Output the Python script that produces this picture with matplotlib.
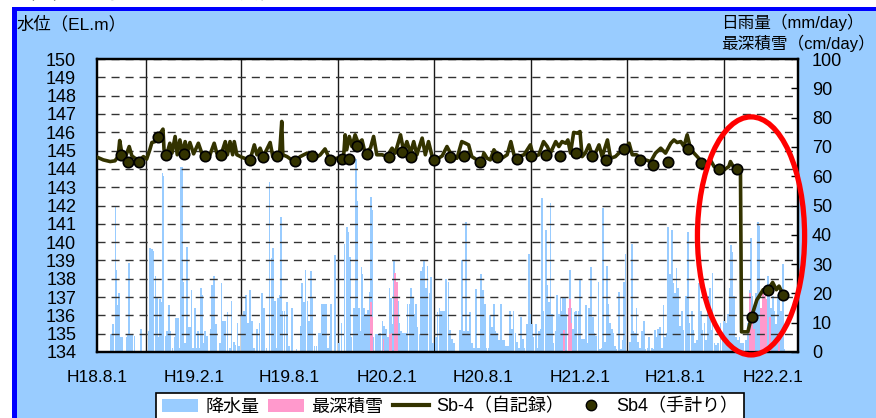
import numpy as np
import matplotlib
matplotlib.use("Agg")
import matplotlib.pyplot as plt
import matplotlib.dates as mdates
from matplotlib.patches import Rectangle, Ellipse, Patch
from matplotlib.lines import Line2D

plt.rcParams['font.family'] = ['Liberation Sans', 'Noto Sans CJK JP']

# --- data (days counted from 2006-08-01 = H18.8.1) ---
START = np.datetime64('2006-08-01')
X_END = np.datetime64('2010-03-21')

tick_dates = ['2006-08-01', '2007-02-01', '2007-08-01', '2008-02-01',
              '2008-08-01', '2009-02-01', '2009-08-01', '2010-02-01']
tick_labels = ['H18.8.1', 'H19.2.1', 'H19.8.1', 'H20.2.1',
               'H20.8.1', 'H21.2.1', 'H21.8.1', 'H22.2.1']
grid_dates = ['2006-11-01', '2007-02-01', '2007-05-01', '2007-08-01',
              '2007-11-01', '2008-02-01', '2008-05-01', '2008-08-01',
              '2008-11-01', '2009-02-01', '2009-05-01', '2009-08-01',
              '2009-11-01', '2010-02-01']

# daily rainfall (mm/day)
rain_day = [26, 31, 35, 37, 39, 42, 44, 47, 56, 59, 61, 63, 66, 71, 83, 98, 101, 104, 107, 111,
            113, 116, 119, 122, 124, 126, 130, 133, 136, 139, 143, 147, 150, 153, 157, 159, 161,
            164, 167, 170, 173, 176, 179, 182, 185, 188, 192, 195, 197, 200, 202, 205, 209, 215,
            218, 221,
            226, 233, 236, 239, 243, 247, 252, 255, 259, 262, 266, 269, 274, 278, 282, 286, 290,
            293, 297, 303, 308, 312, 317, 321, 327, 331, 334, 337, 340, 343, 346, 348, 351, 355,
            360, 364, 369, 378, 386, 388, 392, 395, 399, 402, 405, 408, 412, 416, 420, 422, 426,
            430, 434, 438, 441,
            443, 451, 459, 463, 469, 473, 475, 479, 482, 487, 491, 492, 496, 498, 501, 503, 506,
            510, 513, 516, 519, 522, 524, 528, 532, 536, 541, 544, 547, 551, 554, 557, 560, 563,
            565, 570, 573, 576, 579, 582, 585, 588, 592, 595, 598, 601, 604, 607, 611, 614, 617,
            620, 623, 626, 630, 633, 636, 642, 645, 649, 652, 655, 658,
            661, 666, 669, 673, 676, 688, 692, 695, 699, 702, 704, 707, 711, 714, 718, 722, 726,
            728, 731, 735, 738, 742, 745, 748, 752, 755, 758, 761, 765, 769, 771, 775, 779, 783,
            786, 789, 793, 796, 799, 803, 807, 810, 815, 818, 821, 824, 827, 831, 834, 838, 841,
            843, 846, 850, 853, 856, 859, 862, 865, 869, 872, 875, 878, 881,
            883, 886, 889, 893, 896, 899, 902, 905, 908, 912, 915, 919, 922, 926, 929, 932, 936,
            939, 942, 946, 950, 953, 956, 958, 961, 963, 966, 968, 972, 975, 978, 981, 984, 989,
            992, 996, 999, 1001, 1005, 1010, 1013, 1016, 1019, 1022, 1025, 1029, 1033, 1036,
            1039, 1043, 1046, 1051, 1054, 1057, 1060, 1063, 1066, 1070, 1073, 1076, 1079, 1082,
            1085, 1089, 1092, 1095, 1098, 1101,
            1105, 1108, 1111, 1116, 1119, 1122, 1127, 1130, 1133, 1137, 1141, 1144, 1147, 1151,
            1154, 1158, 1161, 1163, 1166, 1170, 1173, 1176, 1181, 1185, 1188, 1192, 1195, 1198,
            1201, 1204, 1207, 1211, 1214, 1217, 1220, 1224, 1230, 1233, 1236, 1239, 1242, 1245,
            1249, 1252, 1255, 1258, 1261, 1264, 1267, 1271, 1274, 1277, 1280, 1283, 1286, 1290,
            1293, 1296, 1299, 1302]
rain_mm = [6, 9.5, 50, 28, 16, 20, 5, 5, 5, 6, 30.5, 6, 6, 5.5, 8, 7, 35.5, 35, 34.5, 26,
           18.5, 5, 18, 17, 61, 60, 5.5, 7, 16, 7, 1.5, 5, 11.5, 11.5, 1.5, 63, 63,
           24, 3, 36, 8.5, 8.5, 21, 1.5, 15, 1.5, 7, 1.5, 22, 19.5, 3, 7, 5.5, 8,
           23, 26,
           9.5, 3, 23.5, 10.5, 10.5, 13.5, 1.5, 17.5, 3.5, 2.5, 10, 2, 12.5, 14, 19.5, 10, 21,
           10.5, 1.5, 8, 10, 20, 15, 1.5, 58, 32, 35.5, 17.5, 1.5, 18.5, 19.5, 46, 14, 14,
           17, 2, 15, 1, 9, 23.5, 17, 28, 17.5, 10.5, 27.5, 18.5, 2, 2, 6.5, 6.5, 16.5,
           16.5, 16.5, 1.5, 5.5,
           16.5, 33, 3, 10, 37, 42.5, 41, 32.5, 5, 15, 66, 51.5, 15, 7, 29, 26.5, 15,
           13, 14.5, 20.5, 53, 48.5, 5, 6, 6, 6.5, 10.5, 9, 8, 5, 22, 18.5, 9.5, 31,
           27, 17.5, 10, 7, 6.5, 6.5, 6.5, 16.5, 16.5, 22, 18.5, 13, 16.5, 8.5, 6, 27.5, 29,
           31, 22, 29.5, 20, 25.5, 3, 5, 13.5, 15, 14, 14, 14,
           25, 24, 7.5, 4.5, 3, 7.5, 31.5, 7, 44.5, 7, 7, 13.5, 3, 1.5, 21.5, 1.5, 1.5,
           26.5, 21, 16.5, 1.5, 1.5, 12.5, 8.5, 16.5, 7, 6.5, 4, 16.5, 4, 4, 2, 2, 14,
           8, 14, 6.5, 3.5, 1.5, 12, 4.5, 1.5, 9.5, 33.5, 13, 9.5, 5, 9.5, 1.5, 7, 8,
           52.5, 14, 41.5, 23, 17, 51, 13, 3, 7, 19.5, 13, 18.5, 14,
           18.5, 18.5, 13, 12, 28, 15, 8, 13.5, 14, 14, 25, 4.5, 4.5, 16, 3, 15, 29,
           12, 6.5, 5.5, 24, 1, 1.5, 49, 2, 3.5, 29.5, 16.5, 10, 8, 6.5, 2, 1, 20.5,
           1, 4, 24, 33.5, 0.5, 3.5, 37, 7, 6.5, 15, 3.5, 1.5, 7, 10.5,
           1, 1.5, 5, 1.5, 1, 7.5, 5, 8, 8.5, 1.5, 16, 5, 6.5, 42.5,
           26.5, 41.5, 23.5, 20, 28.5, 22,
           9, 14, 7.5, 19, 41, 10, 14, 7.5, 3, 4, 23.5, 14, 7.5, 10,
           4, 19, 22, 7.5, 27, 3, 2.5, 3, 10, 4, 10.5, 10, 13, 22,
           36.5, 34, 19, 5, 4, 5, 3, 3, 4, 10, 21, 39, 19, 14,
           20, 44.5, 43, 14, 12, 11, 16.5, 26, 19, 15, 19, 14, 9.5, 19.5,
           21, 14, 30, 1]

# deepest snow cover (cm/day)
snow_day = [519, 522, 543, 555, 558, 565, 568, 884, 893, 896, 899,
            1237, 1241, 1245, 1258, 1261, 1265, 1268, 1275, 1292]
snow_cm = [17, 12, 4.5, 6, 6.5, 27, 24, 7.5, 15, 18, 10,
           20, 12, 8, 15, 22, 19, 18, 12, 5]

# Sb-4 automatic record (EL.m)
lvl_day = [0, 12, 25, 34, 40, 43, 47, 53, 61, 66, 72, 81, 88, 94, 100, 104, 110, 113, 120, 125,
           127, 132, 138, 142, 148, 152, 157, 162, 167, 171, 176, 183, 192, 199, 205, 214, 222,
           227, 235, 243, 247, 252, 257, 260, 265, 274, 284, 290, 298, 303, 309, 315, 328, 333,
           341, 346, 350, 352, 360, 369, 375, 385, 398, 404, 413, 423, 432, 437, 442, 454, 467,
           470, 473, 478, 483, 489, 495, 502, 508, 518, 524, 530, 540, 549, 559, 565, 575, 581,
           587, 594, 600, 606, 616, 622, 628, 635, 644, 654, 663, 673, 682, 691, 698, 704, 710,
           720, 729, 733, 739, 745, 752, 758, 767, 777, 784, 790, 799, 809, 815, 821, 827, 837,
           846, 853, 859, 869, 875, 881, 888, 892, 897, 903, 910, 915, 919, 925, 932, 938, 944,
           951, 957, 967, 973, 982, 992, 999, 1008, 1014, 1022, 1030, 1039, 1049, 1058, 1068,
           1077, 1087, 1093, 1099, 1106, 1112, 1118, 1125, 1131, 1140, 1147, 1156, 1162, 1169,
           1178, 1188, 1197, 1200, 1207, 1213, 1219, 1221, 1233, 1240, 1250, 1262, 1271, 1280,
           1287, 1292, 1300]
lvl_h = [144.64, 144.49, 144.40, 144.44, 144.67, 145.55, 144.86, 144.58, 145.22, 144.71, 144.58,
         144.49, 144.67, 144.53, 145.04, 145.44, 145.49, 145.77, 145.95, 146.17, 145.04, 144.77,
         145.40, 144.86, 145.77, 144.77, 145.58, 144.86, 145.49, 144.86, 145.44, 144.82, 145.40,
         144.82, 144.77, 144.77, 145.40, 144.86, 144.77, 145.49, 144.77, 145.49, 144.77, 145.49,
         144.77, 144.64, 144.53, 144.49, 145.31, 144.77, 145.13, 144.67, 145.44, 144.67, 144.77,
         144.86, 146.59, 144.77, 144.67, 144.49, 144.44, 144.67, 144.86, 144.77, 144.58, 144.77,
         145.09, 144.77, 144.49, 144.58, 144.58, 145.86, 145.04, 145.77, 145.22, 145.86, 145.40,
         145.58, 144.86, 145.13, 145.77, 144.77, 144.77, 144.67, 145.13, 144.86, 145.86, 144.95,
         145.49, 144.86, 145.49, 144.77, 145.68, 144.77, 145.49, 144.67, 144.53, 144.71, 145.22,
         144.67, 144.58, 145.49, 145.40, 145.31, 144.67, 144.49, 144.40, 144.86, 144.58, 144.49,
         145.04, 144.77, 144.58, 144.77, 145.49, 144.77, 144.67, 144.77, 145.04, 145.31, 144.67,
         144.77, 145.49, 145.22, 144.86, 145.49, 145.22, 145.49, 145.40, 145.58, 144.86, 145.99,
         145.95, 146.04, 144.67, 144.86, 145.31, 144.77, 144.86, 145.31, 144.67, 145.58, 144.58,
         144.67, 144.95, 145.09, 145.40, 144.77, 144.77, 144.58, 144.49, 144.40, 144.86, 145.13,
         144.86, 145.40, 145.58, 145.44, 145.49, 145.22, 145.86, 145.04, 144.86, 144.58, 144.31,
         144.31, 144.49, 144.13, 143.98, 143.95, 144.13, 144.40, 144.04, 143.98, 143.95, 135.10,
         135.10, 135.93, 136.84, 137.40, 137.39, 137.80, 137.40, 137.60, 137.11]

# Sb4 manual readings (EL.m)
man_day = [45, 59, 80, 116, 131, 165, 205, 235, 289, 314, 341, 375, 408, 441, 465, 478, 492,
           511, 554, 577, 595, 638, 669, 696, 725, 758, 795, 822, 850, 878, 907, 937, 964, 999,
           1028, 1053, 1082, 1119, 1145, 1178, 1213, 1240, 1271, 1300]
man_h = [144.77, 144.40, 144.35, 145.73, 144.77, 144.80, 144.73, 144.77, 144.50, 144.63, 144.68,
         144.45, 144.72, 144.50, 144.55, 144.55, 145.26, 144.80, 144.63, 144.92, 144.64, 144.50,
         144.63, 144.68, 144.40, 144.64, 144.55, 144.72, 144.77, 144.68, 144.86, 144.72, 144.50,
         145.10, 144.50, 144.20, 144.37, 145.07, 144.30, 143.97, 143.97, 135.93, 137.39, 137.11]


def to_dates(days):
    return START + np.array(days).astype('timedelta64[D]')


W, H = 876, 418
fx = lambda px: px / W
fy = lambda py: 1 - py / H

fig = plt.figure(figsize=(8.76, 4.18), dpi=100, facecolor='white')

# panel background + blue frame (behind the axes)
fig.patches.append(Rectangle((fx(13), 0), 1 - fx(13), fy(7), transform=fig.transFigure,
                             facecolor='#99CCFF', edgecolor='none', zorder=-3))
fig.patches.append(Rectangle((fx(12), 0), 5 / W, fy(7), transform=fig.transFigure,
                             facecolor='#0000FF', edgecolor='none', zorder=-2))
fig.patches.append(Rectangle((fx(12), fy(11)), 1, 4 / H, transform=fig.transFigure,
                             facecolor='#0000FF', edgecolor='none', zorder=-2))
fig.text(fx(17), fy(3), '（３）Sb-4孔 地下水位経時変化図', fontsize=13, color='#333333',
         va='bottom', ha='left', zorder=-4)

ax = fig.add_axes([fx(97), fy(352), fx(798) - fx(97), fy(59) - fy(352)])
ax.set_facecolor('white')

ax.bar(to_dates(rain_day), rain_mm, width=3.3, color='#99CCFF', linewidth=0, zorder=2)
ax.bar(to_dates(snow_day), snow_cm, width=3.3, color='#FF99CC', linewidth=0, zorder=3)
ax.set_ylim(0, 100)
ax.set_xlim(START, X_END)
ax.set_xticks([np.datetime64(d) for d in tick_dates])
ax.set_xticklabels(tick_labels)
ax.set_xticks([np.datetime64(d) for d in grid_dates], minor=True)
ax.tick_params(axis='x', which='both', length=0, pad=13, labelsize=12.5)
ax.grid(axis='x', which='minor', color='#1a1a1a', linewidth=1)

axh = ax.twinx()
# rain/snow scale on the right, water level on the left
ax.yaxis.tick_right()
ax.set_yticks(np.arange(0, 101, 10))
ax.tick_params(axis='y', direction='in', length=5, width=1, pad=10, labelsize=13,
               left=False, labelleft=False, right=True, labelright=True)
axh.yaxis.tick_left()
axh.set_ylim(134, 150)
axh.set_yticks(np.arange(134, 151, 1))
axh.tick_params(axis='y', length=0, pad=15, labelsize=13,
                left=True, labelleft=True, right=False, labelright=False)
axh.grid(axis='y', color='#333333', linewidth=1, linestyle=(0, (5.8, 4.3)))
axh.plot(to_dates(lvl_day), lvl_h, color='#333300', linewidth=2.6, zorder=4)
axh.plot(to_dates(man_day), man_h, 'o', markersize=7.5, markerfacecolor='#333300',
         markeredgecolor='black', markeredgewidth=1.2, zorder=5)

for a in (ax, axh):
    for s in a.spines.values():
        s.set_color('black')
        s.set_linewidth(1.6)

# red highlight ellipse around the drop
cx = mdates.date2num(START + np.timedelta64(1239, 'D'))
axh.add_patch(Ellipse((cx, 140.34), width=203, height=13.0, facecolor='none',
                      edgecolor='#FF0000', linewidth=3.8, zorder=10, clip_on=False))

fig.text(fx(17), fy(24), '水位（EL.m）', fontsize=12.5, va='center', ha='left')
fig.text(fx(721), fy(22), '日雨量（mm/day）', fontsize=12, va='center', ha='left')
fig.text(fx(721), fy(43), '最深積雪（cm/day）', fontsize=12, va='center', ha='left')

handles = [Patch(facecolor='#99CCFF', edgecolor='none'),
           Patch(facecolor='#FF99CC', edgecolor='none'),
           Line2D([], [], color='#333300', linewidth=3),
           Line2D([], [], linestyle='none', marker='o', markersize=7.5,
                  markerfacecolor='#333300', markeredgecolor='black')]
labels = ['降水量', '最深積雪', 'Sb-4（自記録）', 'Sb4（手計り）']
leg = fig.legend(handles, labels, loc='upper center', bbox_to_anchor=(fx(450), fy(393)),
                 ncol=4, frameon=True, fancybox=False, edgecolor='black', facecolor='white',
                 framealpha=1, fontsize=13, handlelength=2.0, columnspacing=0.5,
                 handletextpad=0.4, borderaxespad=0, borderpad=0.3)
leg.get_frame().set_linewidth(1.2)

fig.savefig('out.png', dpi=100)
